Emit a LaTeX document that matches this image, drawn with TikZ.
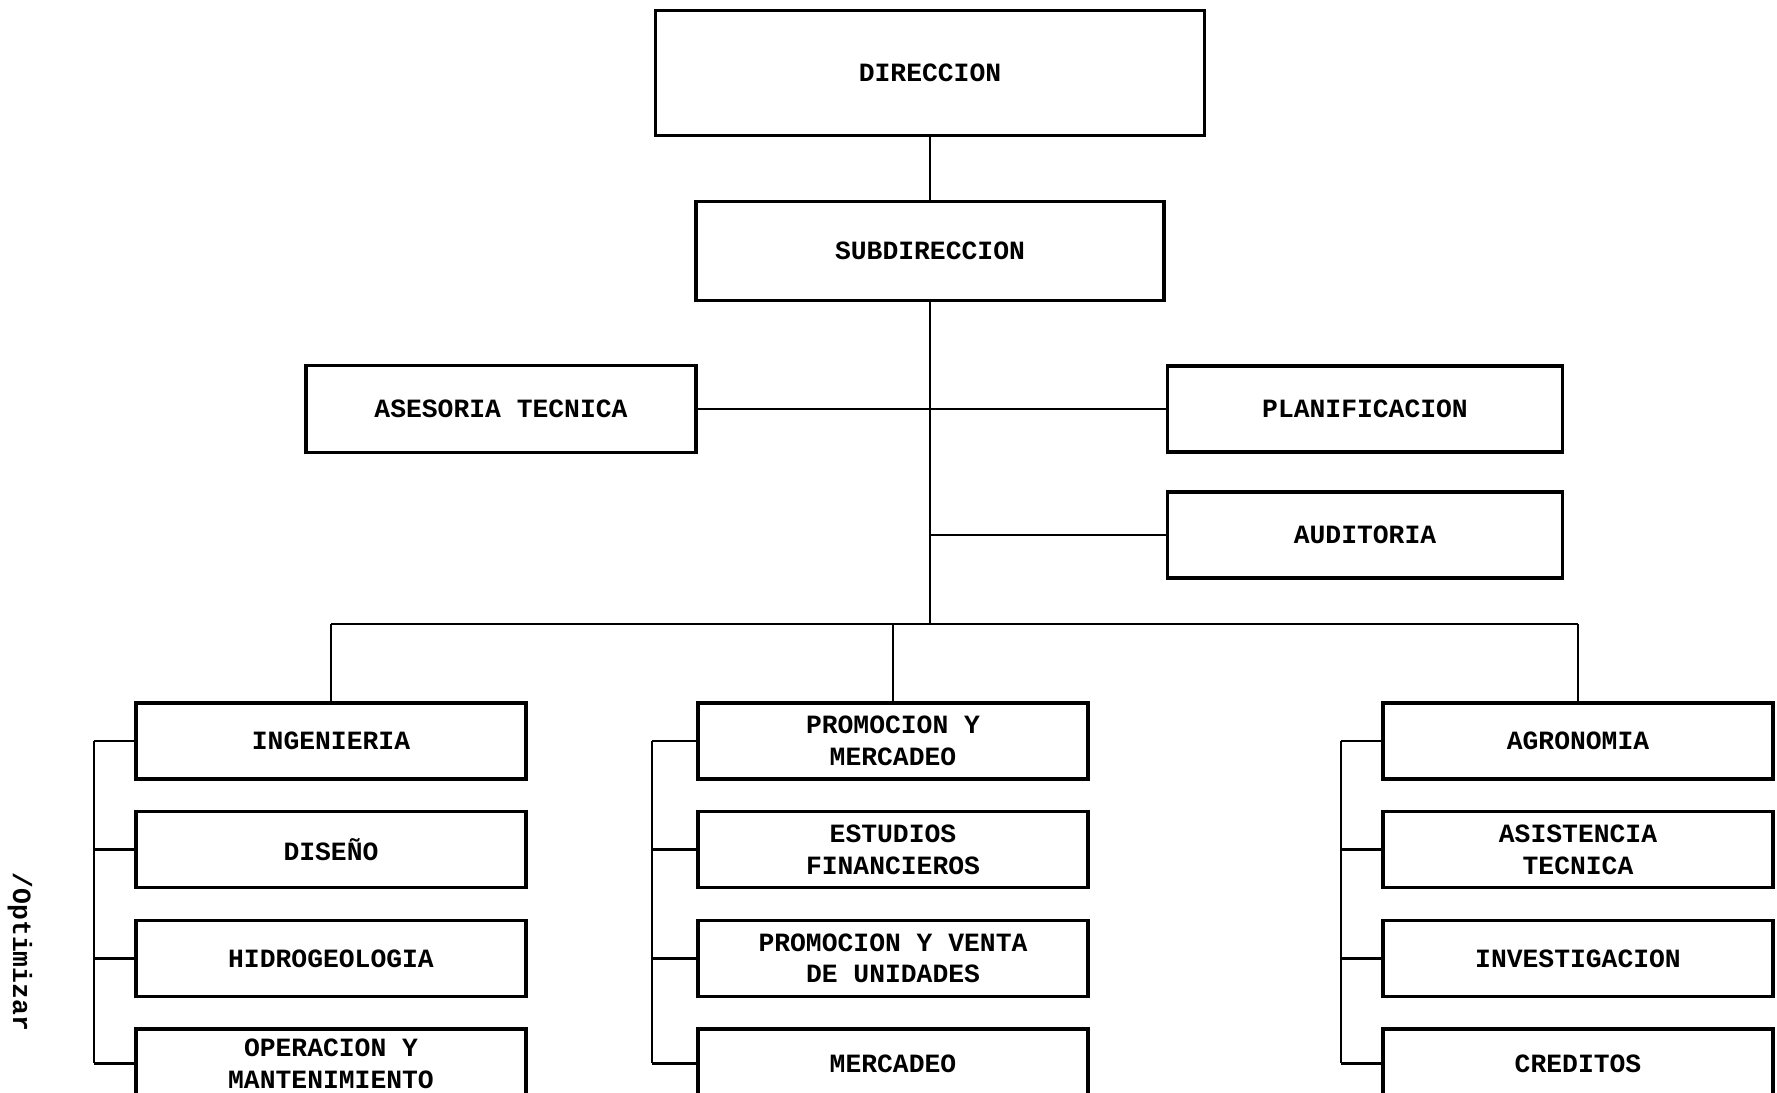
\documentclass[tikz,border=0pt]{standalone}
\usepackage{fontspec}
\setmonofont{Liberation Mono}
\usetikzlibrary{positioning}

\begin{document}
\begin{tikzpicture}[
  x=0.2mm, y=-0.2mm,
  node distance=5.9mm and 0mm,
  box/.style={draw, line width=1.8pt, minimum width=78mm, minimum height=15.2mm, inner sep=1mm, align=center, font=\ttfamily\bfseries\fontsize{15}{18}\selectfont},
  link/.style={line width=1.4pt}
]
  \useasboundingbox (0,0) rectangle (1777,1093);

  % direccion y staff
  \node[box, minimum width=109.8mm, minimum height=25mm] (dir) at (930,73) {DIRECCION};
  \node[box, minimum width=93.6mm, minimum height=19.8mm] (sub) at (930,251) {SUBDIRECCION};
  \node[box, minimum height=17.4mm] (ase) at (501,409) {ASESORIA TECNICA};
  \node[box, minimum width=79mm, minimum height=17.2mm] (plan) at (1365,409) {PLANIFICACION};
  \node[box, minimum width=79mm, minimum height=17.2mm] (aud) at (1365,535) {AUDITORIA};

  % columna izquierda
  \node[box] (ing) at (331,741) {INGENIERIA};
  \node[box, below=of ing] (dis) {DISEÑO};
  \node[box, below=of dis] (hid) {HIDROGEOLOGIA};
  \node[box, below=of hid, minimum height=13.8mm] (ope) {OPERACION Y\\MANTENIMIENTO};

  % columna central
  \node[box] (pro) at (893,741) {PROMOCION Y\\MERCADEO};
  \node[box, below=of pro] (est) {ESTUDIOS\\FINANCIEROS};
  \node[box, below=of est] (ven) {PROMOCION Y VENTA\\DE UNIDADES};
  \node[box, below=of ven, minimum height=13.8mm] (mer) {MERCADEO};

  % columna derecha
  \node[box] (agr) at (1578,741) {AGRONOMIA};
  \node[box, below=of agr] (asi) {ASISTENCIA\\TECNICA};
  \node[box, below=of asi] (inv) {INVESTIGACION};
  \node[box, below=of inv, minimum height=13.8mm] (cre) {CREDITOS};

  \node[rotate=-90, font=\ttfamily\bfseries\fontsize{15}{18}\selectfont] (opt) at (20,952) {/Optimizar};

  \coordinate (bus) at (930,624);
  \coordinate (b1) at (94,741);
  \coordinate (b2) at (652,741);
  \coordinate (b3) at (1341,741);

  \draw[link] (dir.south) -- (sub.north);
  \draw[link] (sub.south) -- (bus);
  \draw[link] (ase) -- (plan);
  \draw[link] (sub.south |- aud.west) -- (aud.west);
  \draw[link] (ing.north |- bus) -- (agr.north |- bus);
  \draw[link] (ing.north |- bus) -- (ing.north);
  \draw[link] (pro.north |- bus) -- (pro.north);
  \draw[link] (agr.north |- bus) -- (agr.north);

  \draw[link] (b1 |- ing.west) -- (b1 |- ope.west);
  \draw[link] (b2 |- pro.west) -- (b2 |- mer.west);
  \draw[link] (b3 |- agr.west) -- (b3 |- cre.west);
  \foreach \n in {ing,dis,hid,ope}
    \draw[link] (b1 |- \n.west) -- (\n.west);
  \foreach \n in {pro,est,ven,mer}
    \draw[link] (b2 |- \n.west) -- (\n.west);
  \foreach \n in {agr,asi,inv,cre}
    \draw[link] (b3 |- \n.west) -- (\n.west);
\end{tikzpicture}
\end{document}
